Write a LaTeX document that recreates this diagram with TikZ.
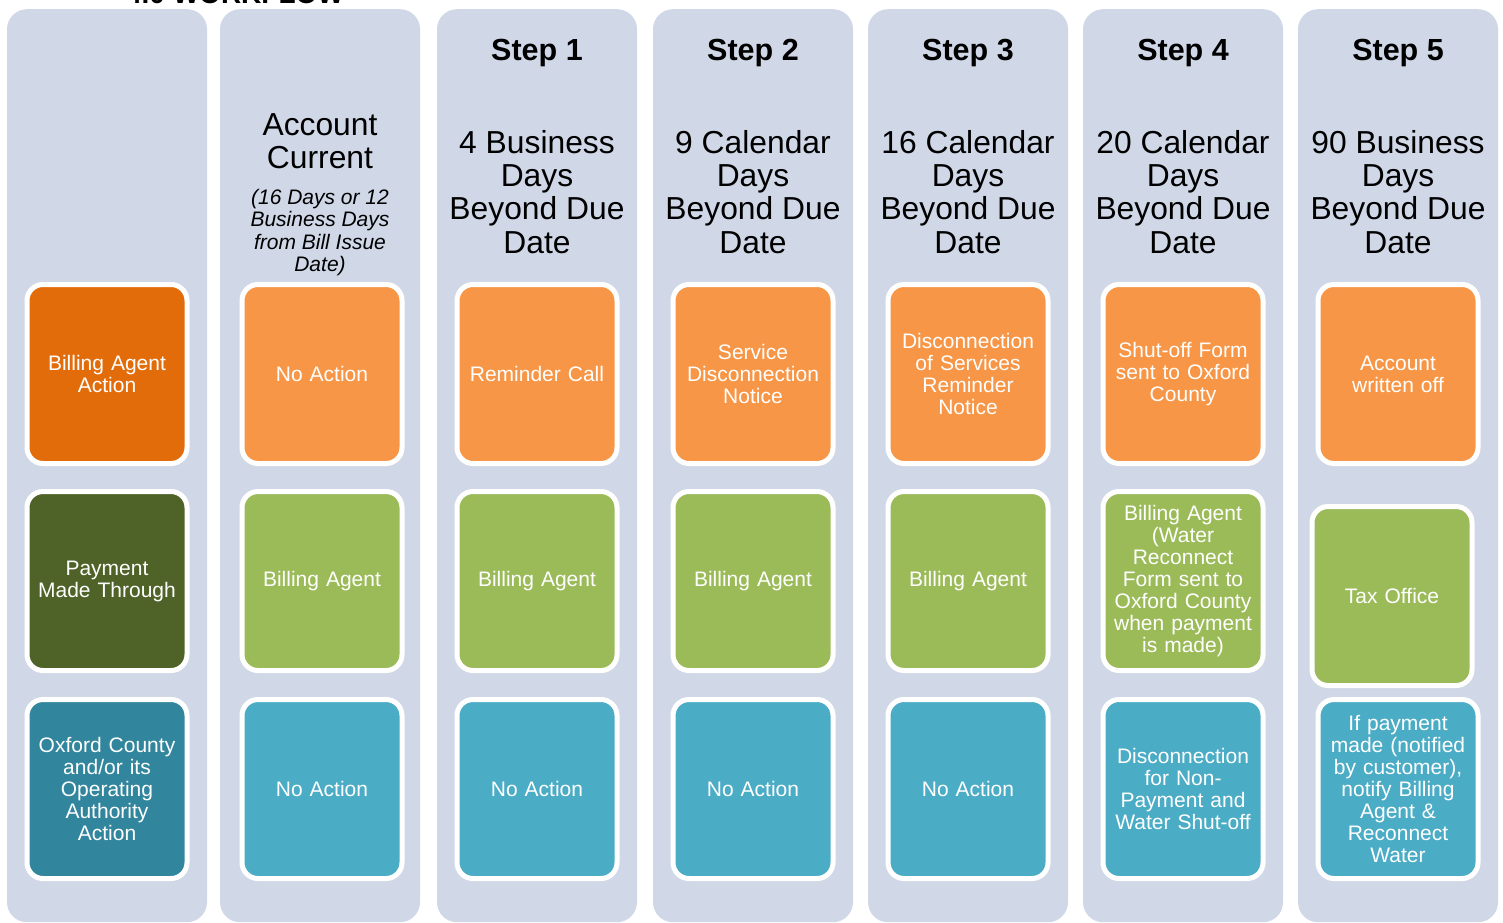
\documentclass[tikz,border=0pt]{standalone}
\usepackage{fontspec}
\setmainfont{Liberation Sans}
\definecolor{colbg}{HTML}{D0D8E8}
\definecolor{orangeA}{HTML}{E36C0A}
\definecolor{orangeB}{HTML}{F79646}
\definecolor{greenA}{HTML}{4F6228}
\definecolor{greenB}{HTML}{9BBB59}
\definecolor{tealA}{HTML}{31859C}
\definecolor{tealB}{HTML}{4BACC6}
\tikzset{
  column/.style={fill=colbg, rounded corners=20pt, minimum width=200pt,
    minimum height=913pt, inner sep=0pt, anchor=north},
  card/.style={draw=white, line width=5pt, rounded corners=16pt,
    minimum width=160pt, minimum height=179pt, inner sep=2pt,
    text width=154pt, align=center, text=white,
    font=\fontsize{21}{22}\selectfont},
  steptitle/.style={anchor=base, inner sep=0pt,
    font=\bfseries\fontsize{30.5}{33}\selectfont},
  period/.style={anchor=north, align=center, inner sep=0pt,
    font=\fontsize{31.8}{33.3}\selectfont},
  note/.style={anchor=north, align=center, inner sep=0pt,
    font=\itshape\fontsize{21}{22.5}\selectfont}
}
\begin{document}
\begin{tikzpicture}[x=1pt,y=-1pt]
  \useasboundingbox (0,0) rectangle (1503,922);
  % title, cut by the page
  \node[anchor=base, inner sep=0pt, font=\bfseries\fontsize{28}{30}\selectfont]
    (title) at (235,3) {4.0 WORKFLOW};
  % columns
  \node[column] (c0) at (107,9) {};
  \node[column] (c1) at (320,9) {};
  \node[column] (c2) at (537,9) {};
  \node[column] (c3) at (753,9) {};
  \node[column] (c4) at (968,9) {};
  \node[column] (c5) at (1183,9) {};
  \node[column] (c6) at (1398,9) {};
  % headers
  \node[period] (h1) at (320,113) {Account\\Current};
  \node[note] (n1) at (320,189) {(16 Days or 12\\Business Days\\from Bill Issue\\Date)};
  \node[steptitle] (s2) at (537,60) {Step 1};
  \node[steptitle] (s3) at (753,60) {Step 2};
  \node[steptitle] (s4) at (968,60) {Step 3};
  \node[steptitle] (s5) at (1183,60) {Step 4};
  \node[steptitle] (s6) at (1398,60) {Step 5};
  \node[period] (h2) at (537,130) {4 Business\\Days\\Beyond Due\\Date};
  \node[period] (h3) at (753,130) {9 Calendar\\Days\\Beyond Due\\Date};
  \node[period] (h4) at (968,130) {16 Calendar\\Days\\Beyond Due\\Date};
  \node[period] (h5) at (1183,130) {20 Calendar\\Days\\Beyond Due\\Date};
  \node[period] (h6) at (1398,130) {90 Business\\Days\\Beyond Due\\Date};
  % row 1: action
  \node[card, fill=orangeA] (a0) at (107,374) {Billing Agent\\Action};
  \node[card, fill=orangeB] (a1) at (322,374) {No Action};
  \node[card, fill=orangeB] (a2) at (537,374) {Reminder Call};
  \node[card, fill=orangeB] (a3) at (753,374) {Service\\Disconnection\\Notice};
  \node[card, fill=orangeB] (a4) at (968,374) {Disconnection\\of Services\\Reminder\\Notice};
  \node[card, fill=orangeB] (a5) at (1183,374) {Shut-off Form\\sent to Oxford\\County};
  \node[card, fill=orangeB] (a6) at (1398,374) {Account\\written off};
  % row 2: payment
  \node[card, fill=greenA] (p0) at (107,581) {Payment\\Made Through};
  \node[card, fill=greenB] (p1) at (322,581) {Billing Agent};
  \node[card, fill=greenB] (p2) at (537,581) {Billing Agent};
  \node[card, fill=greenB] (p3) at (753,581) {Billing Agent};
  \node[card, fill=greenB] (p4) at (968,581) {Billing Agent};
  \node[card, fill=greenB] (p5) at (1183,581) {Billing Agent\\(Water\\Reconnect\\Form sent to\\Oxford County\\when payment\\is made)};
  \node[card, fill=greenB] (p6) at (1392,596) {Tax Office};
  % row 3: county
  \node[card, fill=tealA] (o0) at (107,789) {Oxford County\\and/or its\\Operating\\Authority\\Action};
  \node[card, fill=tealB] (o1) at (322,789) {No Action};
  \node[card, fill=tealB] (o2) at (537,789) {No Action};
  \node[card, fill=tealB] (o3) at (753,789) {No Action};
  \node[card, fill=tealB] (o4) at (968,789) {No Action};
  \node[card, fill=tealB] (o5) at (1183,789) {Disconnection\\for Non-\\Payment and\\Water Shut-off};
  \node[card, fill=tealB] (o6) at (1398,789) {If payment\\made (notified\\by customer),\\notify Billing\\Agent \&\\Reconnect\\Water};
\end{tikzpicture}
\end{document}
